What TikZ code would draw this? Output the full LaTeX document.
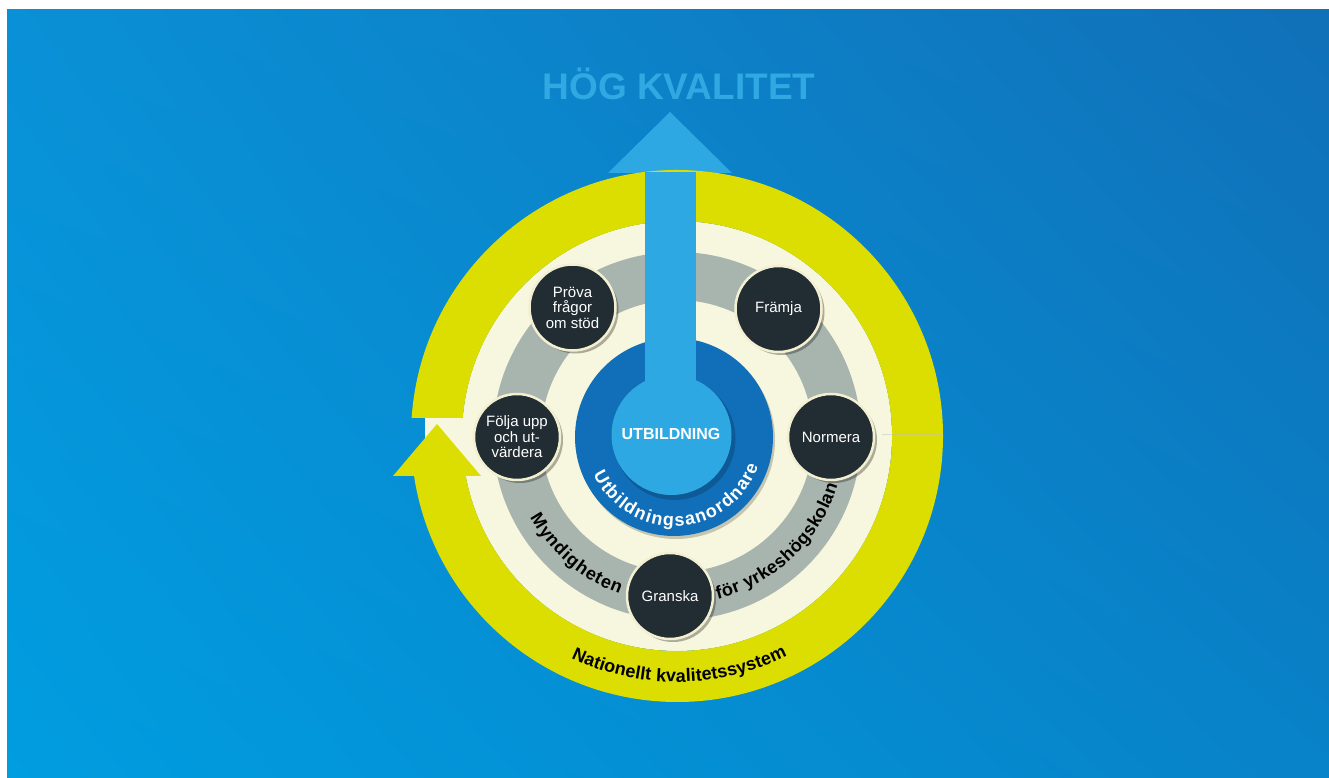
\documentclass[tikz,border=0pt]{standalone}
\usepackage{fontspec}
\setmainfont{Liberation Sans}
\usetikzlibrary{decorations.text,shadows,shadings}
\definecolor{bgTL}{RGB}{10,144,214}
\definecolor{bgTR}{RGB}{16,112,184}
\definecolor{bgBL}{RGB}{0,157,224}
\definecolor{bgBR}{RGB}{8,130,200}
\definecolor{lightblue}{RGB}{46,168,226}
\definecolor{titleblue}{RGB}{48,168,226}
\definecolor{darkblue}{RGB}{16,111,184}
\definecolor{ringyellow}{RGB}{220,221,0}
\definecolor{cream}{RGB}{247,246,222}
\definecolor{ringgray}{RGB}{168,180,174}
\definecolor{circdark}{RGB}{34,45,51}
\definecolor{circedge}{RGB}{243,240,210}
\newcommand\curvefont{\bfseries\fontsize{18}{18}\selectfont}
\tikzset{
  stagebox/.style={circle, fill=circdark, draw=circedge, line width=2.5pt,
    minimum size=86pt, inner sep=0pt, text=white, align=center,
    font=\fontsize{15}{15.5}\selectfont,
    drop shadow={shadow xshift=3pt, shadow yshift=-3pt, opacity=0.3, fill=black}},
  curvetext/.style={decorate, decoration={text along path, text align={fit to path}, text={#1}}}
}
\begin{document}
\begin{tikzpicture}[x=1pt,y=1pt]
\useasboundingbox (0,0) rectangle (1329,778);
\fill[white] (0,0) rectangle (1329,778);
\shade[upper left=bgTL, upper right=bgTR, lower left=bgBL, lower right=bgBR] (7,0) rectangle (1329,768);
\node[anchor=base, text=titleblue, font=\bfseries\fontsize{37}{37}\selectfont, inner sep=0pt] (title) at (679,678) {HÖG KVALITET};
\begin{scope}[shift={(677,342)}]
  % arrow head of the quality arrow
  \fill[lightblue] (-69,263) -- (55,263) -- (-7,324) -- cycle;
  % cream disk and gray ring
  \fill[cream] (0,0) circle[radius=215];
  \fill[ringgray, even odd rule] (0,0) circle[radius=184] (0,0) circle[radius=136];
  \fill[cream] (-252,-40) rectangle (-205,18);
  % yellow circular arrow
  \fill[ringyellow] (176.1:266) arc[start angle=176.1, end angle=-171.35, radius=266]
     -- (-284,-40) -- (-240,12) -- (-196,-40) -- (-169.28:215)
     arc[start angle=-169.28, end angle=175.2, radius=215] -- cycle;
  \draw[black!25, opacity=0.5, line width=0.5pt] (205,2) -- (266,2);
  % dark blue disk
  \fill[darkblue, drop shadow={shadow xshift=2pt, shadow yshift=-3pt, opacity=0.2, fill=black}] (-3,-1) circle[radius=99];
  % shadow of inner disk
  \fill[black, opacity=0.18] (-2.5,-3) circle[radius=61];
  % shaft and inner disk
  \fill[lightblue] (-32,0) rectangle (19,264);
  \fill[lightblue] (-5.5,1) circle[radius=60];
  \node[text=white, font=\bfseries\fontsize{16}{16}\selectfont] (utb) at (-6,2) {UTBILDNING};
  % stage circles
  \node[stagebox] (prova) at (-104.5,128.5) {Pröva\\frågor\\om stöd};
  \node[stagebox] (framja) at (101.5,127) {Främja};
  \node[stagebox] (folja) at (-160,-1) {Följa upp\\och ut-\\värdera};
  \node[stagebox] (normera) at (154,-1) {Normera};
  \node[stagebox] (granska) at (-7,-160) {Granska};
  % curved texts
  \path[curvetext={|\curvefont\color{white}|Utbildningsanordnare}]
     ([shift={(-155:89)}]-3,-1) arc[start angle=-155, end angle=-19, radius=89];
  \path[curvetext={|\curvefont\color{black}|Myndigheten}]
     (-151:168) arc[start angle=-151, end angle=-110, radius=168];
  \path[curvetext={|\curvefont\color{black}|för yrkeshögskolan}]
     (-76:168) arc[start angle=-76, end angle=-17, radius=168];
  \path[curvetext={|\curvefont\color{black}|Nationellt kvalitetssystem}]
     (-115.5:246) arc[start angle=-115.5, end angle=-63.4, radius=246];
\end{scope}
\end{tikzpicture}
\end{document}
